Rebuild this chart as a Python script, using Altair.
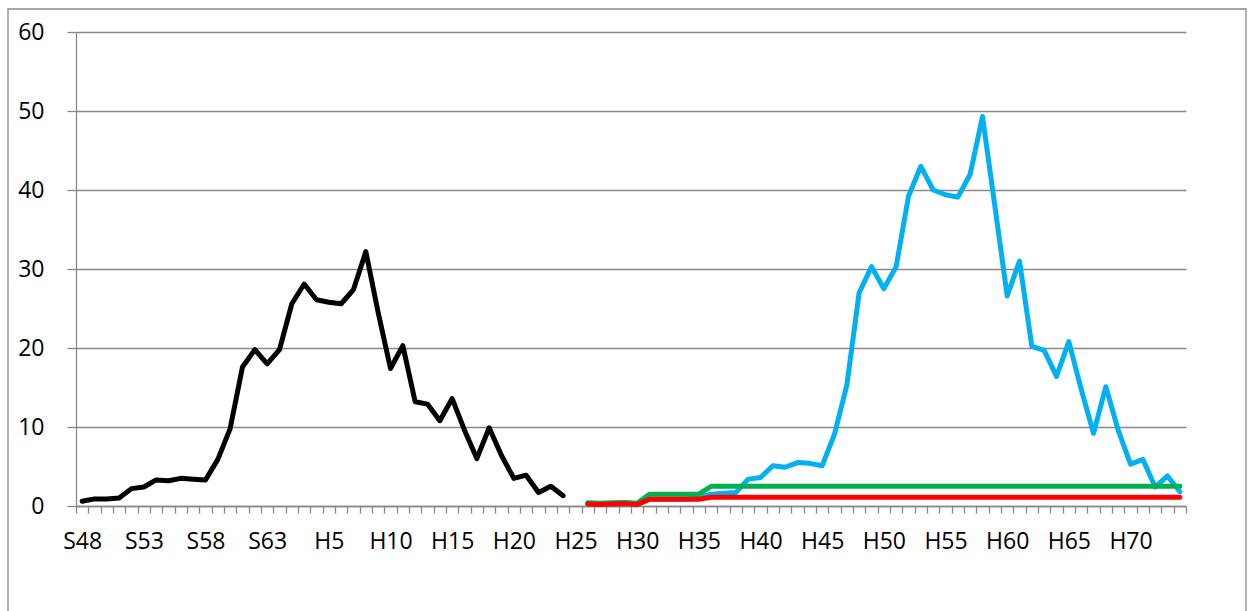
import json
import altair as alt
import pandas as pd

# Category axis: Showa 48..63, then Heisei 1..74
categories = [f"S{y}" for y in range(48, 64)] + [f"H{y}" for y in range(1, 75)]
shown_labels = ["S48", "S53", "S58", "S63", "H5", "H10", "H15", "H20", "H25", "H30",
                "H35", "H40", "H45", "H50", "H55", "H60", "H65", "H70"]
y_ticks = [0, 10, 20, 30, 40, 50, 60]

# Black series: S48 .. H24
black_start = "S48"
black_values = [0.6, 0.9, 0.9, 1.0, 2.2, 2.4, 3.3, 3.2, 3.5, 3.4,
                3.3, 5.9, 9.8, 17.6, 19.8, 18.0, 19.8, 25.6, 28.1, 26.1,
                25.8, 25.6, 27.4, 32.2, 24.5, 17.4, 20.3, 13.2, 12.9, 10.8,
                13.6, 9.6, 6.0, 9.9, 6.4, 3.5, 3.9, 1.7, 2.5, 1.3]

# Blue, green, red series: H26 .. H74
second_start = "H26"
blue_values = [0.25, 0.2, 0.25, 0.3, 0.2, 0.85, 0.85, 0.85, 0.85, 1.1,
               1.5, 1.6, 1.7, 3.4, 3.6, 5.1, 4.9, 5.5, 5.4, 5.1,
               9.1, 15.3, 27.0, 30.3, 27.5, 30.3, 39.2, 43.0, 40.0, 39.4,
               39.1, 42.0, 49.3, 38.0, 26.6, 31.0, 20.2, 19.7, 16.4, 20.8,
               14.8, 9.2, 15.1, 9.6, 5.3, 5.9, 2.4, 3.8, 1.8]
green_values = [0.4, 0.35, 0.4, 0.45, 0.35, 1.5, 1.5, 1.5, 1.5, 1.5] + [2.5] * 39
red_values = [0.25, 0.2, 0.25, 0.3, 0.2, 0.85, 0.85, 0.85, 0.85, 0.85] + [1.1] * 39

series = [
    ("black", black_start, black_values, "#000000"),
    ("blue", second_start, blue_values, "#00B0F0"),
    ("green", second_start, green_values, "#00B050"),
    ("red", second_start, red_values, "#FF0000"),
]

rows = []
for name, start, vals, _ in series:
    s = categories.index(start)
    for i, v in enumerate(vals):
        rows.append({"cat": categories[s + i], "value": v, "series": name})
df = pd.DataFrame(rows)

GRAY = "#898989"
FONT = "Open Sans"

label_expr = "indexof(" + json.dumps(shown_labels) + ", datum.value) >= 0 ? datum.value : ''"

x_enc = alt.X(
    "cat:O",
    scale=alt.Scale(type="band", domain=categories, paddingInner=0, paddingOuter=0),
    bandPosition=0.5,
    axis=alt.Axis(
        title=None, labelAngle=0, labelExpr=label_expr, labelOverlap=False,
        tickBand="extent", tickSize=7, tickColor=GRAY, tickWidth=1.3,
        domainColor=GRAY, domainWidth=1.3, grid=False,
        labelFont=FONT, labelFontSize=23, labelColor="#000000", labelPadding=17,
    ),
)
y_enc = alt.Y(
    "value:Q",
    scale=alt.Scale(domain=[0, 60], nice=False),
    axis=alt.Axis(
        title=None, values=y_ticks, grid=True, gridColor=GRAY, gridWidth=1.3,
        tickSize=9, tickColor=GRAY, tickWidth=1.3, domainColor=GRAY, domainWidth=1.3,
        labelFont=FONT, labelFontSize=23, labelColor="#000000", labelPadding=23,
    ),
)

layers = []
for name, _, _, color in series:
    layers.append(
        alt.Chart(df).transform_filter(alt.datum.series == name)
        .mark_line(color=color, strokeWidth=5, strokeCap="round", strokeJoin="round")
        .encode(x=x_enc, y=y_enc)
    )

frame = alt.Chart(pd.DataFrame({"b": [0]})).mark_rect(
    filled=False, stroke=GRAY, strokeWidth=1.3
).encode(x=alt.value(-68), x2=alt.value(1170), y=alt.value(-23), y2=alt.value(700))

chart = alt.layer(frame, *layers).properties(
    width=1110, height=474,
    autosize=alt.AutoSizeParams(type="none"),
    padding={"left": 76, "top": 32, "right": 65, "bottom": 105},
    background="#ffffff",
).configure_view(strokeWidth=0)

chart.save("out.html", embed_options={"renderer": "svg", "actions": False})
